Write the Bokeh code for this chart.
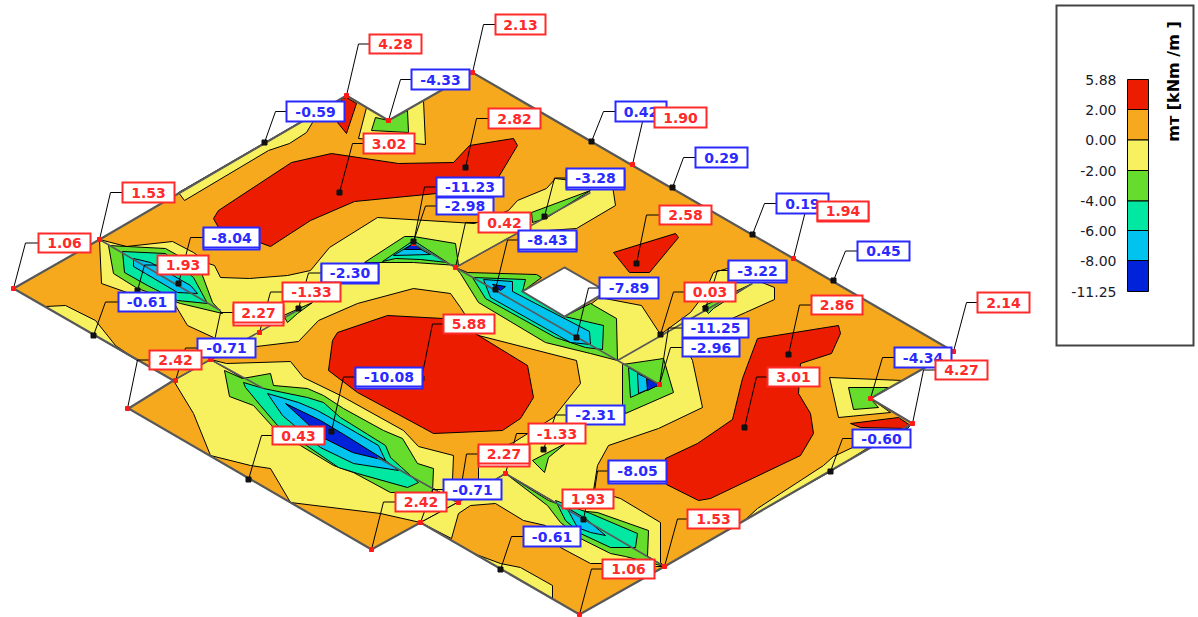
from bokeh.plotting import figure
from bokeh.models import Range1d
from bokeh.core.properties import value
from bokeh.embed import file_html
from bokeh.resources import INLINE

RED, ORANGE, YELLOW, GREEN = "#EB1C00", "#F7A91E", "#F8F15F", "#66DC2C"
TEAL, CYAN, BLUE = "#00E8A2", "#00C3EE", "#0022D8"
LBL_RED, LBL_BLUE = "#FF2A2A", "#2A2AFF"
GREY = "#585858"

plate = [(13,288),(99,239),(346,95),(388,120),(472,72),(632,165),(793,258),(953,351),(870,398),(912,423),
         (664,566),(579,614),(420,522),(371,549),(128,408),(173,380)]
hole = [(564,267),(522,291),(564,316),(606,291)]

# contour bands, painted in this order
bands = [
 (ORANGE, plate),
 (YELLOW, [(99,239),(126,246),(172,241),(193,252),(208,263),(214,265),(220,277),(249,278),(287,275),(310,270),(329,247),
           (377,217),(474,223),(508,210),(517,200),(546,188),(555,178),(612,185),(615,205),(576,228),(518,232),(455,267),
           (560,327),(599,297),(641,305),(660,334),(690,312),(703,295),(713,272),(727,268),(774,287),(774,299),(745,312),
           (682,340),(692,360),(702,407),(658,428),(608,445),(597,465),(593,490),(620,498),(660,522),(660,562),(664,566),
           (505,473),(457,502),(210,359),(213,337),(187,325),(175,305),(135,295),(101,283)]),
 (ORANGE, [(210,359),(240,347),(256,346),(298,341),(318,320),(357,303),(413,288),(450,293),(460,307),(478,335),(576,360),
           (580,383),(553,417),(513,442),(480,455),(478,467),(478,487),(462,498),(452,480),(453,455),(418,446),(403,430),
           (340,395),(303,377),(290,361),(226,363)]),
 (YELLOW, [(173,380),(210,359),(457,502),(420,522),(380,513),(290,502),(270,468),(250,465),(210,455),(193,413)]),
 (YELLOW, [(457,502),(505,473),(664,566),(655,566),(602,563),(590,563),(560,547),(545,525),(523,520),(495,503),(470,505),
           (458,513),(451,538),(420,522)]),
 (YELLOW, [(178,192),(184,200),(268,150),(289,143),(306,132),(312,122),(318,111)]),
 (YELLOW, [(366,107),(388,120),(423,100),(425,144),(358,138)]),
 (YELLOW, [(829,377),(902,380),(870,398),(890,412),(838,417)]),
 (YELLOW, [(745,519),(757,508),(823,465),(833,456),(852,447),(868,447),(830,471)]),
 (YELLOW, [(45,306),(65,305),(95,320),(115,345),(137,360)]),
 (YELLOW, [(473,553),(500,563),(520,567),(552,585),(552,598)]),
 (RED, [(346,97),(356,103),(346,133),(337,122),(341,98)]),
 (GREEN, [(375,117),(388,120),(407,110),(408,132),(371,130)]),
 (GREEN, [(848,387),(888,387),(870,398),(878,407),(853,409)]),
 (RED, [(213,218),(218,210),(291,162),(331,153),(398,163),(453,162),(469,145),(513,138),(517,145),(499,175),(494,187),
        (436,193),(354,201),(310,220),(270,246),(218,227)]),
 (RED, [(337,332),(387,315),(443,318),(478,335),(527,365),(533,397),(520,418),(502,430),(433,433),(422,427),(357,392),
        (328,370),(332,340)]),
 (RED, [(757,338),(838,325),(840,333),(831,353),(800,363),(798,393),(810,413),(813,433),(800,455),(710,498),(698,500),
        (666,484),(665,458),(697,443),(732,419),(742,378)]),
 (RED, [(613,252),(675,233),(678,237),(649,272),(629,272)]),
 (RED, [(850,423),(898,417),(910,425),(907,428),(860,427)]),
 (GREEN, [(108,245),(165,248),(199,267),(212,302),(222,313),(180,303),(137,288),(113,273)]),
 (TEAL, [(122,251),(165,253),(193,277),(207,303),(177,300),(147,285),(124,272)]),
 (CYAN, [(133,258),(150,262),(190,285),(197,293),(177,292),(145,273),(133,266)]),
 (GREEN, [(364,262),(404,236),(413,236),(455,243),(458,265),(413,262)]),
 (TEAL, [(382,261),(413,240),(447,262),(420,259),(395,258)]),
 (CYAN, [(393,255),(411,244),(430,254)]),
 (BLUE, [(404,249),(413,243),(421,249)]),
 (GREEN, [(531,212),(590,190),(545,218),(532,222)]),
 (GREEN, [(702,306),(750,284),(713,308),(708,313)]),
 (GREEN, [(283,315),(312,302),(297,313),(287,322)]),
 (GREEN, [(532,460),(565,443),(548,457),(544,472)]),
 (GREEN, [(622,364),(663,358),(673,392),(625,413),(622,404)]),
 (TEAL, [(628,367),(659,384),(630,397)]),
 (CYAN, [(637,373),(659,384),(638,393)]),
 (BLUE, [(646,378),(659,384),(647,390)]),
 (GREEN, [(455,267),(467,272),(536,274),(541,277),(522,291),(564,316),(590,303),(616,318),(617,360),(590,353),(545,342),
          (478,302),(460,273)]),
 (TEAL, [(472,277),(525,279),(522,291),(564,316),(603,325),(602,349),(585,347),(555,337),(485,298)]),
 (CYAN, [(483,279),(512,281),(512,291),(589,331),(590,344),(570,342),(490,297)]),
 (BLUE, [(492,284),(505,286),(500,290)]),
 (GREEN, [(224,370),(229,396),(253,405),(272,426),(300,445),(333,465),(353,472),(390,492),(432,492),(433,468),(417,463),
          (402,438),(383,430),(343,408),(323,395),(307,388),(273,385),(270,373),(242,378)]),
 (TEAL, [(243,382),(245,387),(260,405),(277,425),(338,467),(357,473),(407,487),(418,482),(410,475),(390,457),(385,445),
         (340,417),(323,402),(307,397),(263,388)]),
 (CYAN, [(267,393),(282,415),(320,447),(353,463),(398,470),(385,460),(378,445),(340,423),(317,410),(298,402)]),
 (BLUE, [(285,403),(320,420),(345,435),(385,460),(352,452),(322,437)]),
 (GREEN, [(505,473),(548,500),(575,510),(597,512),(648,530),(647,556),(664,566),(625,556),(610,553),(580,538),(560,522),(547,505)]),
 (TEAL, [(555,500),(590,513),(637,533),(635,547),(610,547),(580,533),(565,520)]),
 (CYAN, [(566,507),(585,518),(605,535),(590,532),(577,527)]),
]

ridges = [[(99,239),(220,310)],[(455,267),(659,384)],[(210,359),(263,388)],[(377,457),(457,502)],
          [(505,473),(664,566)],[(455,267),(590,192)],[(617,360),(752,283)],[(173,380),(300,308)],
          [(457,502),(505,473)],[(413,243),(455,267)]]

# text, colour, box x0, y0, x1, y1, anchor x, anchor y, elbow x, shadow px, marker colour
labels = [
 ("-0.61","b",118,292,175,311,93,335,105,0,"k"),
 ("1.06","r",38,233,90,252,13,288,25,0,"r"),
 ("1.53","r",122,182,174,202,99,239,110,0,"r"),
 ("-0.59","b",286,101,344,121,264,142,275,0,"k"),
 ("4.28","r",369,34,421,53,346,95,358,0,"r"),
 ("-4.33","b",411,69,469,89,388,120,400,0,"r"),
 ("2.13","r",495,14,545,34,472,72,483,0,"r"),
 ("2.82","r",488,108,540,128,465,167,476,0,"k"),
 ("3.02","r",363,133,414,153,339,192,352,0,"k"),
 ("-2.98","b",436,197,493,214,413,241,425,0,"k"),
 ("-11.23","b",436,177,503,196,413,243,424,0,"r"),
 ("-3.28","b",566,168,624,187,544,216,554,2,"k"),
 ("0.42","r",478,212,530,232,455,267,465,0,"r"),
 ("-8.43","b",518,230,576,249,495,289,507,2,"k"),
 ("0.42","b",615,101,666,121,591,141,603,0,"k"),
 ("1.90","r",654,107,706,127,632,164,643,0,"r"),
 ("0.29","b",695,147,747,167,672,187,683,0,"k"),
 ("2.58","r",659,205,711,224,636,263,646,0,"k"),
 ("0.19","b",776,193,828,213,752,234,764,0,"k"),
 ("1.94","r",817,201,868,220,793,258,805,1,"r"),
 ("0.45","b",857,241,909,260,833,280,845,0,"k"),
 ("-3.22","b",728,260,786,280,705,308,717,2,"k"),
 ("0.03","r",684,282,735,301,660,334,673,0,"k"),
 ("-7.89","b",599,277,658,298,576,337,588,0,"k"),
 ("2.86","r",811,295,862,314,788,354,799,0,"k"),
 ("-2.96","b",682,338,739,356,659,384,670,0,"r"),
 ("-11.25","b",682,318,748,337,659,384,668,0,"r"),
 ("3.01","r",767,367,819,386,744,427,756,0,"k"),
 ("2.14","r",977,292,1029,312,953,351,966,0,"r"),
 ("-4.34","b",894,347,951,367,870,398,882,0,"r"),
 ("4.27","r",935,360,987,379,912,423,923,0,"r"),
 ("-0.60","b",852,429,910,447,830,471,842,0,"k"),
 ("-8.05","b",608,460,666,481,593,497,597,2,"k"),
 ("1.93","r",562,489,613,508,583,519,587,0,"k"),
 ("1.53","r",687,509,739,528,664,566,677,0,"r"),
 ("-0.61","b",523,526,580,546,500,569,511,0,"k"),
 ("1.06","r",602,559,654,578,579,614,591,0,"r"),
 ("-2.31","b",566,405,624,424,543,449,555,0,"k"),
 ("-1.33","r",528,423,585,443,505,473,516,0,"r"),
 ("2.27","r",478,444,529,463,458,502,466,3,"r"),
 ("-0.71","b",443,479,501,499,420,522,432,0,"r"),
 ("2.42","r",395,492,446,511,371,549,383,0,"r"),
 ("0.43","r",272,426,324,444,248,479,261,0,"k"),
 ("5.88","r",443,314,494,333,421,378,432,0,"k"),
 ("-10.08","b",355,367,422,386,331,431,343,2,"k"),
 ("-8.04","b",203,227,259,247,178,283,190,2,"k"),
 ("1.93","r",157,255,208,274,137,290,144,0,"k"),
 ("-2.30","b",321,263,378,282,298,308,308,1,"k"),
 ("-1.33","r",282,282,340,301,259,332,270,0,"r"),
 ("-0.71","b",197,338,255,357,175,380,185,0,"r"),
 ("2.27","r",233,302,283,322,210,359,220,3,"r"),
 ("2.42","r",149,350,201,369,127,408,137,0,"r"),
]

legend_levels = ["5.88","2.00","0.00","-2.00","-4.00","-6.00","-8.00","-11.25"]
legend_edges = [79,109,139.5,170,200.5,230,260,291]
legend_colors = [RED, ORANGE, YELLOW, GREEN, TEAL, CYAN, BLUE]

p = figure(width=1198, height=617, x_range=Range1d(0,1198), y_range=Range1d(617,0),
           output_backend="svg", toolbar_location=None, min_border=0,
           outline_line_color=None, background_fill_color="white",
           styles={"position":"absolute","left":"0","top":"0"})
p.axis.visible = False
p.grid.visible = False

p.patches([[q[0] for q in b[1]] for b in bands], [[q[1] for q in b[1]] for b in bands],
          fill_color=[b[0] for b in bands], line_color="#000000", line_width=1, line_join="miter")
p.multi_line([[q[0] for q in r] for r in ridges], [[q[1] for q in r] for r in ridges],
             line_color=GREY, line_width=1.6)
closed = plate + plate[:1]
p.line([q[0] for q in closed], [q[1] for q in closed], line_color=GREY, line_width=2.2, line_join="miter")
p.patch([q[0] for q in hole], [q[1] for q in hole], fill_color="white", line_color=GREY, line_width=2, line_join="miter")

for L in labels:
    t,c,x0,y0,x1,y1,ax,ay,ex,sh,mk = L
    ym = (y0+y1)/2
    p.line([ax,ex,x0],[ay,ym,ym], line_color="black", line_width=1, line_join="miter")
for col, key, sz in (("#FF1A1A","r",4),("#111111","k",5)):
    sel = [L for L in labels if L[10]==key]
    p.scatter([L[6] for L in sel],[L[7] for L in sel], marker="square", size=sz, fill_color=col, line_color=col)

for L in labels:
    t,c,x0,y0,x1,y1,ax,ay,ex,sh,mk = L
    col = LBL_RED if c=="r" else LBL_BLUE
    if sh:
        p.quad(left=[x0],right=[x1],top=[y0+sh],bottom=[y1+sh],fill_color="white",line_color=col,line_width=2,line_join="miter")
    p.quad(left=[x0],right=[x1],top=[y0],bottom=[y1],fill_color="white",line_color=col,line_width=2,line_join="miter")
    p.text([(x0+x1)/2],[(y0+y1)/2],text=[t],text_color=col,text_align="center",text_baseline="middle",
           text_font=value("DejaVu Sans"),text_font_style="bold",text_font_size="14px")

# legend
p.quad(left=[1056],right=[1193],top=[5],bottom=[345],fill_color="white",line_color="#444444",line_width=2,line_join="miter")
p.quad(left=[1127]*7,right=[1148]*7,top=legend_edges[:-1],bottom=legend_edges[1:],
       fill_color=legend_colors,line_color="black",line_width=1,line_join="miter")
p.text([1116]*8,legend_edges,text=legend_levels,text_align="right",text_baseline="middle",text_color="#1a1a2a",
       text_font=value("DejaVu Sans"),text_font_size="14px")
p.text([1173],[81],text=["mᴛ [kNm /m ]"],angle=[1.5708],text_align="center",text_baseline="middle",text_color="black",
       text_font=value("DejaVu Sans"),text_font_style="bold",text_font_size="16px")

open("out.html","w").write(file_html(p, INLINE))
